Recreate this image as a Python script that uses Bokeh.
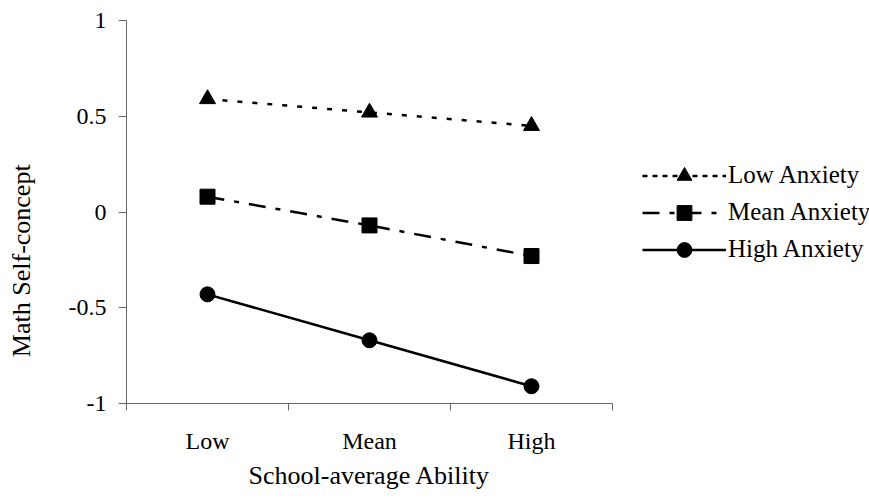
from bokeh.plotting import figure
from bokeh.models import (Range1d, FixedTicker, CustomJSTickFormatter, Legend,
                          LegendItem, Title)
from bokeh.embed import file_html
from bokeh.resources import INLINE

# ---- data ----
categories = ["Low", "Mean", "High"]
series_names = ["Low Anxiety", "Mean Anxiety", "High Anxiety"]
low_anxiety = [0.59, 0.52, 0.45]
mean_anxiety = [0.08, -0.07, -0.23]
high_anxiety = [-0.43, -0.67, -0.91]
y_ticks = [-1, -0.5, 0, 0.5, 1]
x_title = "School-average Ability"
y_title = "Math Self-concept"

FONT = "Liberation Serif"
AXIS_COLOR = "#666666"
NBSP = "\u00a0"

W, H = 869, 502
LEFT, TOP, BOTTOM = 126, 20, 99
AXIS_PX = 486                      # visible length of the category axis
n = len(categories)
frame_w = W - LEFT
x_end = n * frame_w / AXIS_PX      # frame runs on to hold the legend

xs = [i + 0.5 for i in range(n)]
boundaries = list(range(n + 1))

p = figure(width=W, height=H, output_backend="svg", toolbar_location=None,
           x_range=Range1d(0, x_end), y_range=Range1d(y_ticks[0], y_ticks[-1]),
           min_border_left=LEFT, min_border_right=0, min_border_top=TOP,
           min_border_bottom=BOTTOM)
p.outline_line_color = None
p.grid.visible = False
p.background_fill_color = "white"
p.border_fill_color = "white"

# x axis: labels at category centres, ticks at category boundaries
xa = p.xaxis[0]
xa.bounds = (0, n)
xa.ticker = FixedTicker(ticks=xs, minor_ticks=boundaries)
xa.formatter = CustomJSTickFormatter(args=dict(labels=categories),
                                     code="return labels[Math.floor(tick)];")
xa.major_tick_out = 0
xa.major_tick_in = 0
xa.minor_tick_out = 7
xa.minor_tick_in = 0
xa.minor_tick_line_color = AXIS_COLOR
xa.axis_line_color = AXIS_COLOR
xa.major_label_standoff = 17
xa.major_label_text_font = FONT
xa.major_label_text_font_size = "24px"
xa.major_label_text_color = "black"

# x title centred under the visible axis (not the whole frame)
p.add_layout(Title(text=x_title, align="left", offset=122, standoff=4,
                   text_font=FONT, text_font_size="26px",
                   text_font_style="normal", text_color="black"), "below")

ya = p.yaxis[0]
ya.ticker = FixedTicker(ticks=y_ticks, minor_ticks=[])
ya.formatter = CustomJSTickFormatter(code="return tick.toString();")
ya.major_tick_out = 8
ya.major_tick_in = 0
ya.minor_tick_out = 0
ya.minor_tick_in = 0
ya.major_tick_line_color = AXIS_COLOR
ya.axis_line_color = AXIS_COLOR
ya.major_label_standoff = 12
ya.major_label_text_font = FONT
ya.major_label_text_font_size = "24px"
ya.major_label_text_color = "black"
# title sits below the frame centre in the reference: pad its end
ya.axis_label = y_title + NBSP * 15
ya.axis_label_text_font = FONT
ya.axis_label_text_font_size = "26px"
ya.axis_label_text_font_style = "normal"
ya.axis_label_text_color = "black"
ya.axis_label_standoff = 30

# ---- series ----
series = [low_anxiety, mean_anxiety, high_anxiety]
markers = ["triangle", "square", "circle"]
sizes = [16, 15, 15]
dashes = ["5 10", "17 10 5 10", "solid"]
legend_dashes = ["5 5", "17 10 5 10", "solid"]

items = []
for name, ys, mk, sz, dash, ldash in zip(series_names, series, markers, sizes,
                                         dashes, legend_dashes):
    p.line(xs, ys, line_color="black", line_width=2.5, line_dash=dash)
    p.scatter(xs, ys, marker=mk, size=sz, fill_color="black", line_color="black")
    # hidden proxies that only supply the legend swatch
    lr = p.line(xs, ys, line_color="black", line_width=2.5, line_dash=ldash,
                visible=False)
    ls = p.scatter(xs, ys, marker=mk, fill_color="black", line_color="black",
                   visible=False)
    items.append(LegendItem(label=name, renderers=[lr, ls]))

legend = Legend(items=items, location=(516, 135.5), orientation="vertical",
                glyph_width=84, glyph_height=37, label_standoff=2, spacing=0,
                padding=0, margin=0, border_line_color=None,
                background_fill_alpha=0, label_text_font=FONT,
                label_text_font_size="25px", label_text_color="black",
                inactive_fill_alpha=0)
p.add_layout(legend)

open("out.html", "w").write(file_html(p, INLINE))
